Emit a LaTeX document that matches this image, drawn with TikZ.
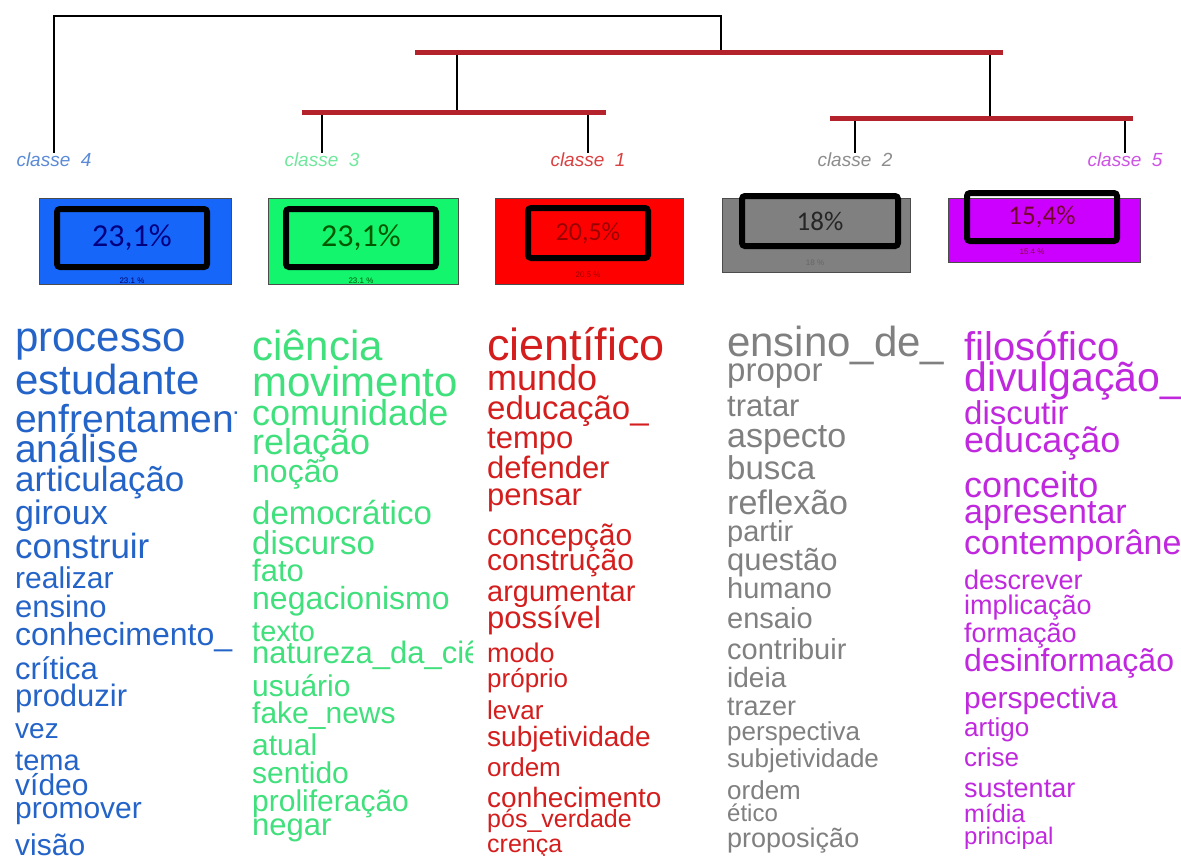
\documentclass[tikz,border=0pt]{standalone}
\usepackage{fontspec}
\setmainfont{Liberation Sans}
\newfontfamily\pctfont{Carlito}
\newcommand{\fsz}[1]{\fontsize{#1}{#1}\selectfont}

\definecolor{wblue}{RGB}{36,100,200}
\definecolor{wgreen}{RGB}{64,224,124}
\definecolor{wred}{RGB}{212,30,30}
\definecolor{wgray}{RGB}{128,128,128}
\definecolor{wpurple}{RGB}{192,40,222}
\definecolor{barred}{RGB}{180,34,44}
\definecolor{fblue}{RGB}{22,102,250}
\definecolor{fgreen}{RGB}{20,245,110}
\definecolor{fred}{RGB}{255,0,0}
\definecolor{fgray}{RGB}{128,128,128}
\definecolor{fpurple}{RGB}{204,0,255}

\tikzset{
  leaf/.style={font=\fsz{19}\itshape, inner sep=0pt},
  stem/.style={draw=black, line width=1.2pt},
  redbar/.style={draw=barred, line width=5pt},
  outerbox/.style={draw=black!70, line width=0.8pt, inner sep=0pt},
  innerbox/.style={draw=black, line width=6pt, rounded corners=3pt, inner sep=0pt, font=\pctfont\fsz{32}},
  smallpct/.style={font=\fsz{8}, inner sep=0pt},
  word/.style={anchor=base west, inner sep=0pt}
}

\begin{document}
\begin{tikzpicture}[x=1pt, y=-1pt]
    \useasboundingbox [fill=white] (0,0) rectangle (1181,855);

    % dendrogram
    \node [leaf, text=wblue!75] (c4) at (54,160) {classe\ \ 4};
    \node [leaf, text=wgreen!75] (c3) at (322,160) {classe\ \ 3};
    \node [leaf, text=wred!85] (c1) at (588,160) {classe\ \ 1};
    \node [leaf, text=wgray!90] (c2) at (855,160) {classe\ \ 2};
    \node [leaf, text=wpurple!80] (c5) at (1125,160) {classe\ \ 5};
    \coordinate (root) at (721,16);
    \coordinate (bar1w) at (415,52);
    \coordinate (bar1e) at (1003,52);
    \coordinate (bar2w) at (302,112);
    \coordinate (bar2e) at (606,112);
    \coordinate (bar3w) at (830,118);
    \coordinate (bar3e) at (1133,118);
    \coordinate (m1) at (457,52);
    \coordinate (m2) at (990,52);
    \draw [stem] (c4.north) |- (root) -- (root |- bar1w);
    \draw [stem] (m1) -- (m1 |- bar2w);
    \draw [stem] (m2) -- (m2 |- bar3w);
    \draw [stem] (c3.north) -- (c3.north |- bar2w);
    \draw [stem] (c1.north) -- (c1.north |- bar2w);
    \draw [stem] (c2.north) -- (c2.north |- bar3w);
    \draw [stem] (c5.north) -- (c5.north |- bar3w);
    \draw [redbar] (bar1w) -- (bar1e);
    \draw [redbar] (bar2w) -- (bar2e);
    \draw [redbar] (bar3w) -- (bar3e);

    % percentage boxes
    \node [outerbox, fill=fblue, minimum width=192, minimum height=86] (p4) at (135,241) {};
    \node [smallpct, text=blue!40!black] (s4) at (132,281) {23.1 \%};
    \node [innerbox, text=blue!50!black, minimum width=150, minimum height=58] (i4) at (132,238) {23,1\%};
    \node [outerbox, fill=fgreen, minimum width=190, minimum height=86] (p3) at (363,241) {};
    \node [smallpct, text=green!35!black] (s3) at (361,281) {23.1 \%};
    \node [innerbox, text=green!35!black, minimum width=150, minimum height=58] (i3) at (361,238) {23,1\%};
    \node [outerbox, fill=fred, minimum width=188, minimum height=86] (p1) at (589,241) {};
    \node [smallpct, text=red!60!black] (s1) at (588,275) {20.5 \%};
    \node [innerbox, text=red!60!black, font=\pctfont\fsz{26}, minimum width=120, minimum height=50] (i1) at (588,233) {20,5\%};
    \node [outerbox, fill=fgray, minimum width=188, minimum height=74] (p2) at (816,235) {};
    \node [smallpct, text=black!60] (s2) at (815,263) {18 \%};
    \node [innerbox, text=black!85, font=\pctfont\fsz{27}, minimum width=156, minimum height=50] (i2) at (820,221) {18\%};
    \node [outerbox, fill=fpurple, minimum width=192, minimum height=64] (p5) at (1044,230) {};
    \node [smallpct, text=purple!70!black] (s5) at (1032,252) {15.4 \%};
    \node [innerbox, text=purple!60!black, font=\pctfont\fsz{27}, minimum width=150, minimum height=48] (i5) at (1042,217) {15,4\%};

    % classe 4
    \begin{scope}[every node/.style={word, text=wblue}]
    \clip (0,300) rectangle (236,855);
    \node [font=\fsz{42}] (b1) at (15,351) {processo};
    \node [font=\fsz{42}] (b2) at (15,394) {estudante};
    \node [font=\fsz{39}] (b3) at (15,432) {enfrentamento};
    \node [font=\fsz{39}] (b4) at (15,462) {análise};
    \node [font=\fsz{35}] (b5) at (15,491) {articulação};
    \node [font=\fsz{34}] (b6) at (15,524) {giroux};
    \node [font=\fsz{35}] (b7) at (15,558) {construir};
    \node [font=\fsz{30}] (b8) at (15,588) {realizar};
    \node [font=\fsz{31}] (b9) at (15,617) {ensino};
    \node [font=\fsz{32}] (b10) at (15,645) {conhecimento\_};
    \node [font=\fsz{31}] (b11) at (15,679) {crítica};
    \node [font=\fsz{31}] (b12) at (15,706) {produzir};
    \node [font=\fsz{28}] (b13) at (15,738) {vez};
    \node [font=\fsz{29}] (b14) at (15,770) {tema};
    \node [font=\fsz{30}] (b15) at (15,795) {vídeo};
    \node [font=\fsz{30}] (b16) at (15,818) {promover};
    \node [font=\fsz{30}] (b17) at (15,855) {visão};
    \end{scope}

    % classe 3
    \begin{scope}[every node/.style={word, text=wgreen}]
    \clip (240,300) rectangle (472,855);
    \node [font=\fsz{42}] (g1) at (252,360) {ciência};
    \node [font=\fsz{42}] (g2) at (252,396) {movimento};
    \node [font=\fsz{36}] (g3) at (252,425) {comunidade};
    \node [font=\fsz{36}] (g4) at (252,454) {relação};
    \node [font=\fsz{32}] (g5) at (252,482) {noção};
    \node [font=\fsz{33}] (g6) at (252,524) {democrático};
    \node [font=\fsz{33}] (g7) at (252,554) {discurso};
    \node [font=\fsz{31}] (g8) at (252,581) {fato};
    \node [font=\fsz{32}] (g9) at (252,609) {negacionismo};
    \node [font=\fsz{29}] (g10) at (252,641) {texto};
    \node [font=\fsz{31}] (g11) at (252,663) {natureza\_da\_ciência};
    \node [font=\fsz{30}] (g12) at (252,696) {usuário};
    \node [font=\fsz{30}] (g13) at (252,723) {fake\_news};
    \node [font=\fsz{30}] (g14) at (252,755) {atual};
    \node [font=\fsz{30}] (g15) at (252,783) {sentido};
    \node [font=\fsz{30}] (g16) at (252,811) {proliferação};
    \node [font=\fsz{31}] (g17) at (252,835) {negar};
    \end{scope}

    % classe 1
    \begin{scope}[every node/.style={word, text=wred}]
    \node [font=\fsz{45}] (r1) at (487,360) {científico};
    \node [font=\fsz{36}] (r2) at (487,390) {mundo};
    \node [font=\fsz{33}] (r3) at (487,419) {educação\_};
    \node [font=\fsz{31}] (r4) at (487,448) {tempo};
    \node [font=\fsz{31}] (r5) at (487,478) {defender};
    \node [font=\fsz{31}] (r6) at (487,505) {pensar};
    \node [font=\fsz{30}] (r7) at (487,545) {concepção};
    \node [font=\fsz{30}] (r8) at (487,570) {construção};
    \node [font=\fsz{29}] (r9) at (487,601) {argumentar};
    \node [font=\fsz{31}] (r10) at (487,628) {possível};
    \node [font=\fsz{27}] (r11) at (487,662) {modo};
    \node [font=\fsz{26}] (r12) at (487,687) {próprio};
    \node [font=\fsz{26}] (r13) at (487,719) {levar};
    \node [font=\fsz{28}] (r14) at (487,746) {subjetividade};
    \node [font=\fsz{26}] (r15) at (487,776) {ordem};
    \node [font=\fsz{28}] (r16) at (487,807) {conhecimento};
    \node [font=\fsz{25}] (r17) at (487,827) {pós\_verdade};
    \node [font=\fsz{25}] (r18) at (487,852) {crença};
    \end{scope}

    % classe 2
    \begin{scope}[every node/.style={word, text=wgray}]
    \node [font=\fsz{42}] (e1) at (727,356) {ensino\_de\_};
    \node [font=\fsz{33}] (e2) at (727,381) {propor};
    \node [font=\fsz{31}] (e3) at (727,416) {tratar};
    \node [font=\fsz{34}] (e4) at (727,447) {aspecto};
    \node [font=\fsz{33}] (e5) at (727,479) {busca};
    \node [font=\fsz{34}] (e6) at (727,514) {reflexão};
    \node [font=\fsz{29}] (e7) at (727,541) {partir};
    \node [font=\fsz{31}] (e8) at (727,570) {questão};
    \node [font=\fsz{29}] (e9) at (727,598) {humano};
    \node [font=\fsz{29}] (e10) at (727,628) {ensaio};
    \node [font=\fsz{29}] (e11) at (727,659) {contribuir};
    \node [font=\fsz{28}] (e12) at (727,687) {ideia};
    \node [font=\fsz{27}] (e13) at (727,715) {trazer};
    \node [font=\fsz{26}] (e14) at (727,740) {perspectiva};
    \node [font=\fsz{26}] (e15) at (727,767) {subjetividade};
    \node [font=\fsz{26}] (e16) at (727,799) {ordem};
    \node [font=\fsz{24}] (e17) at (727,821) {ético};
    \node [font=\fsz{27}] (e18) at (727,847) {proposição};
    \end{scope}

    % classe 5
    \begin{scope}[every node/.style={word, text=wpurple}]
    \clip (955,300) rectangle (1181,855);
    \node [font=\fsz{40}] (v1) at (964,360) {filosófico};
    \node [font=\fsz{41}] (v2) at (964,391) {divulgação\_};
    \node [font=\fsz{33}] (v3) at (964,424) {discutir};
    \node [font=\fsz{36}] (v4) at (964,452) {educação};
    \node [font=\fsz{36}] (v5) at (964,497) {conceito};
    \node [font=\fsz{34}] (v6) at (964,523) {apresentar};
    \node [font=\fsz{34}] (v7) at (964,554) {contemporânea};
    \node [font=\fsz{27}] (v8) at (964,589) {descrever};
    \node [font=\fsz{27}] (v9) at (964,614) {implicação};
    \node [font=\fsz{27}] (v10) at (964,642) {formação};
    \node [font=\fsz{32}] (v11) at (964,671) {desinformação};
    \node [font=\fsz{30}] (v12) at (964,708) {perspectiva};
    \node [font=\fsz{26}] (v13) at (964,736) {artigo};
    \node [font=\fsz{26}] (v14) at (964,766) {crise};
    \node [font=\fsz{27}] (v15) at (964,797) {sustentar};
    \node [font=\fsz{25}] (v16) at (964,822) {mídia};
    \node [font=\fsz{24}] (v17) at (964,844) {principal};
    \end{scope}
\end{tikzpicture}
\end{document}
